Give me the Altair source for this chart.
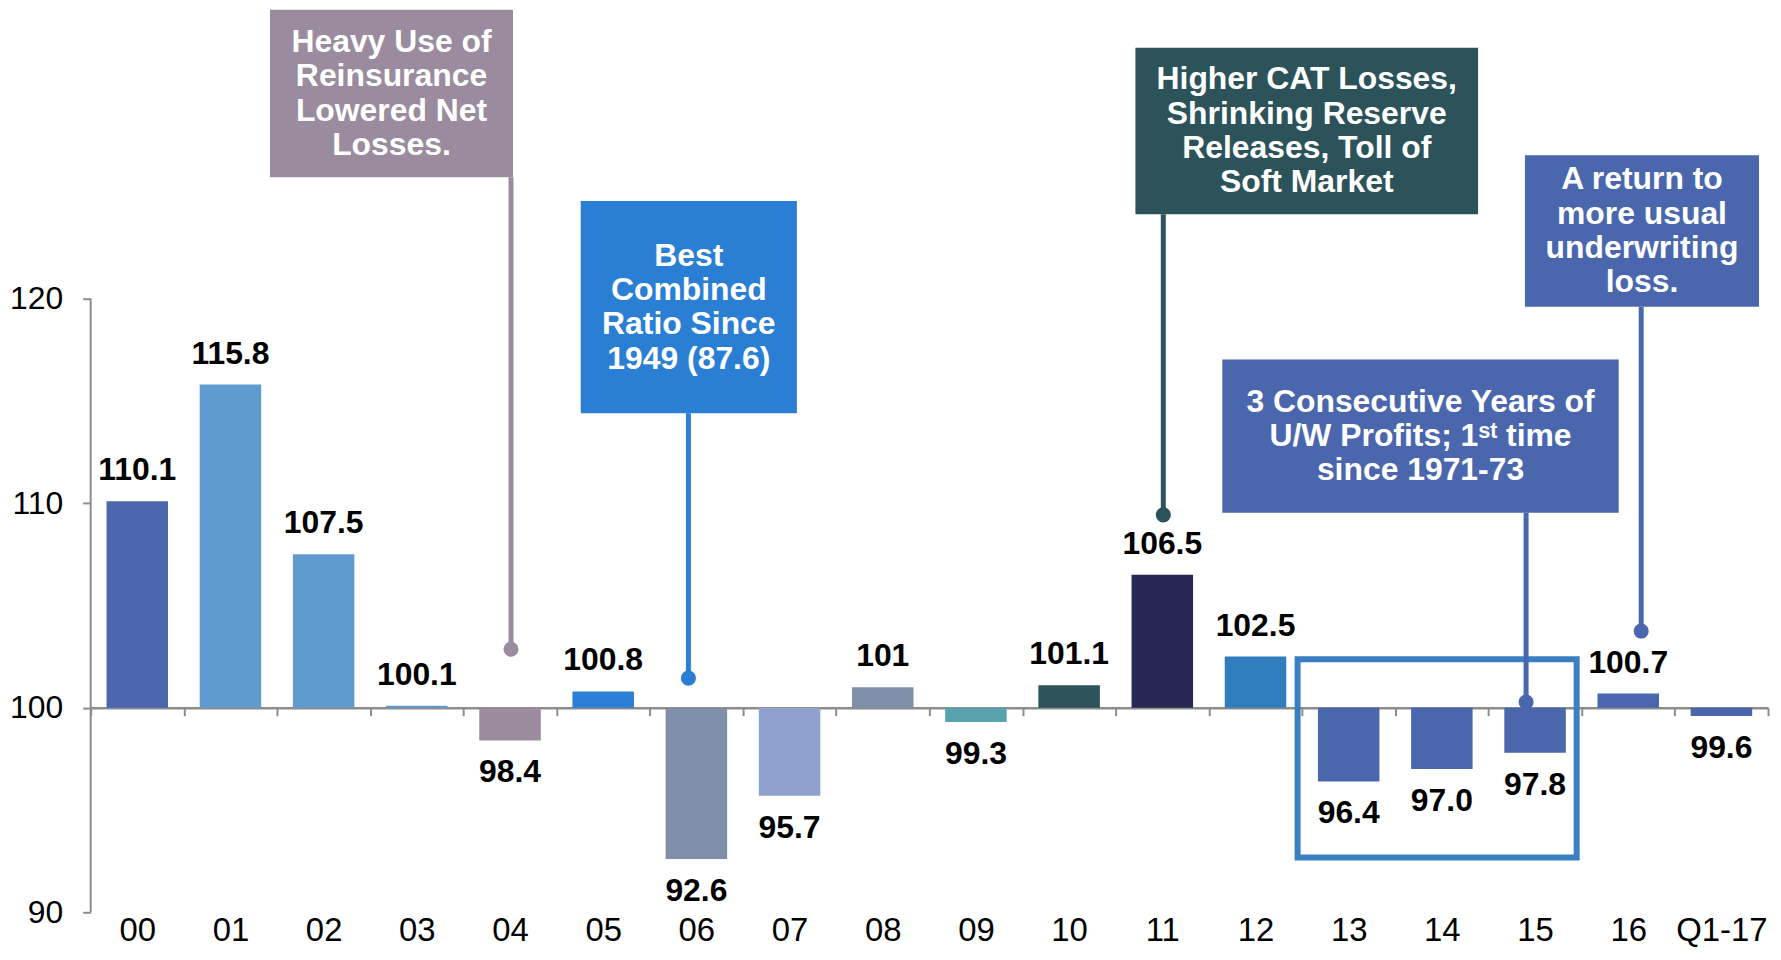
import altair as alt
import pandas as pd

FONT = "Liberation Sans, Arial, sans-serif"

# ---------------- data ----------------
categories = ["00", "01", "02", "03", "04", "05", "06", "07", "08", "09",
              "10", "11", "12", "13", "14", "15", "16", "Q1-17"]
values = [110.1, 115.8, 107.5, 100.1, 98.4, 100.8, 92.6, 95.7, 101.0, 99.3,
          101.1, 106.5, 102.5, 96.4, 97.0, 97.8, 100.7, 99.6]
value_labels = ["110.1", "115.8", "107.5", "100.1", "98.4", "100.8", "92.6", "95.7", "101", "99.3",
                "101.1", "106.5", "102.5", "96.4", "97.0", "97.8", "100.7", "99.6"]
bar_colors = ["#4A67AE", "#5F9BCE", "#5F9BCE", "#5F9BCE", "#9A8B9E", "#2B7FD6", "#7F8FAA", "#8FA2CF",
              "#7F8FAA", "#58A2AE", "#2C535A", "#262752", "#317EBF", "#4A67AE", "#4A67AE", "#4A67AE",
              "#4A67AE", "#4A67AE"]

ann_texts = [
    "Heavy Use of\nReinsurance\nLowered Net\nLosses.",
    "Best\nCombined\nRatio Since\n1949 (87.6)",
    "Higher CAT Losses,\nShrinking Reserve\nReleases, Toll of\nSoft Market",
    "3 Consecutive Years of\nU/W Profits; 1\u02e2\u1d57 time\nsince 1971-73",
    "A return to\nmore usual\nunderwriting\nloss.",
]
ann_cats = ["04", "06", "11", "15", "16"]
ann_box_top = [134.12, 124.77, 132.27, 117.03, 127.01]
ann_box_bottom = [125.94, 114.40, 124.13, 109.53, 119.61]
ann_dot = [102.86, 101.45, 109.43, 100.28, 103.75]
ann_colors = ["#9A8B9E", "#2A7FD4", "#2C535A", "#4A67AE", "#4A67AE"]

highlight_start, highlight_end = "13", "15"
highlight_top, highlight_bottom = 102.37, 92.68

y_ticks = [90, 100, 110, 120]

# ---------------- layout / style ----------------
ann_box_width = [244, 217, 344, 398, 235]
ann_box_shift = [-119, -7.6, 145, -115, 13.8]
ann_line_shift = [1, -8, 1, -9, 13]
LINE_H = 34.5

PLOT_W, PLOT_H = 1684, 906
Y_DOMAIN = [90, 134.12]
AXIS_GRAY = "#8C8C8C"
base_offset = -PLOT_H * (100 - Y_DOMAIN[0]) / (Y_DOMAIN[1] - Y_DOMAIN[0])

xscale = alt.Scale(domain=categories, paddingInner=0, paddingOuter=0)
yscale = alt.Scale(domain=Y_DOMAIN, nice=False, zero=False)

X_AXIS = alt.Axis(title=None, orient="bottom", offset=base_offset,
                  domainColor=AXIS_GRAY, domainWidth=2.5,
                  tickColor=AXIS_GRAY, tickWidth=2, tickSize=8, tickBand="extent",
                  labelFont=FONT, labelFontSize=33, labelColor="#000000",
                  labelAngle=0, labelBaseline="middle", labelPadding=216)
Y_AXIS = alt.Axis(title=None, values=y_ticks, domain=False, grid=False,
                  tickColor=AXIS_GRAY, tickWidth=2, tickSize=8,
                  labelFont=FONT, labelFontSize=32, labelColor="#000000",
                  labelPadding=20)


def xenc(field="cat", **kw):
    return alt.X(f"{field}:N", scale=xscale, sort=categories, axis=X_AXIS, **kw)


def yenc(field):
    return alt.Y(f"{field}:Q", scale=yscale, axis=Y_AXIS)


df = pd.DataFrame({"cat": categories, "value": values, "label": value_labels})

bars = alt.Chart(df).mark_bar(width={"band": 0.66}).encode(
    x=xenc(),
    y=yenc("value"),
    y2=alt.datum(100),
    color=alt.Color("cat:N", scale=alt.Scale(domain=categories, range=bar_colors), legend=None),
)

yline_df = pd.DataFrame({"lo": [y_ticks[0]], "hi": [y_ticks[-1]]})
yline = alt.Chart(yline_df).mark_rule(color=AXIS_GRAY, strokeWidth=2).encode(
    x=alt.value(0), y=yenc("lo"), y2="hi:Q"
)

lbl_style = dict(font=FONT, fontSize=32, fontWeight="bold", color="#000000", baseline="middle", align="center")
above = alt.Chart(df).transform_filter("datum.value >= 100").mark_text(dy=-31, **lbl_style).encode(
    x=xenc(), y=yenc("value"), text="label:N")
below = alt.Chart(df).transform_filter("datum.value < 100").mark_text(dy=32, **lbl_style).encode(
    x=xenc(), y=yenc("value"), text="label:N")

hdf = pd.DataFrame({"start": [highlight_start], "end": [highlight_end],
                    "top": [highlight_top], "bottom": [highlight_bottom]})
highlight = alt.Chart(hdf).mark_rect(fillOpacity=0, stroke="#3A7FC1", strokeWidth=6,
                                     xOffset=-4.5, x2Offset=-5).encode(
    x=alt.X("start:N", scale=xscale, sort=categories, axis=X_AXIS, bandPosition=0),
    x2=alt.X2("end:N", bandPosition=1),
    y=yenc("top"), y2="bottom:Q",
)

layers = [bars, yline, above, below, highlight]

for i in range(len(ann_texts)):
    adf = pd.DataFrame({"cat": [ann_cats[i]], "top": [ann_box_top[i]], "bottom": [ann_box_bottom[i]],
                        "dot": [ann_dot[i]], "text": [ann_texts[i]]})
    col = ann_colors[i]
    n_lines = ann_texts[i].count("\n") + 1
    box = alt.Chart(adf).mark_bar(width=ann_box_width[i], xOffset=ann_box_shift[i], color=col).encode(
        x=xenc(), y=yenc("top"), y2="bottom:Q")
    txt = alt.Chart(adf).transform_calculate(mid="(datum.top + datum.bottom) / 2").mark_text(
        lineBreak="\n", lineHeight=LINE_H, xOffset=ann_box_shift[i], dy=-(n_lines - 1) * LINE_H / 2,
        font=FONT, fontSize=32, fontWeight="bold", color="#FFFFFF",
        align="center", baseline="middle").encode(
        x=xenc(), y=yenc("mid"), text="text:N")
    rule = alt.Chart(adf).mark_rule(strokeWidth=5, color=col, xOffset=ann_line_shift[i]).encode(
        x=xenc(), y=yenc("bottom"), y2="dot:Q")
    dot = alt.Chart(adf).mark_circle(size=230, opacity=1, color=col, xOffset=ann_line_shift[i]).encode(
        x=xenc(), y=yenc("dot"))
    layers += [box, txt, rule, dot]

chart = alt.layer(*layers).properties(
    width=PLOT_W, height=PLOT_H,
    padding={"left": 83, "top": 0, "right": 5, "bottom": 35},
    autosize=alt.AutoSizeParams(type="none"),
).configure_view(strokeWidth=0)

chart.save("out.html", embed_options={"renderer": "svg", "actions": False})
